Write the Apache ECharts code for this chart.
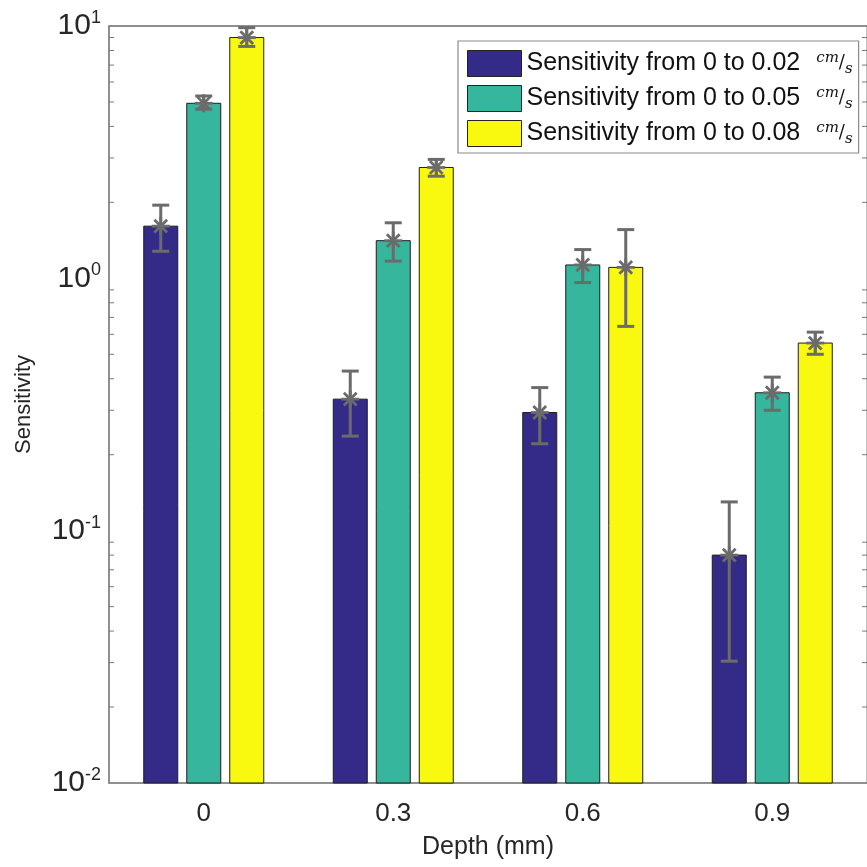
<!DOCTYPE html>
<html><head><meta charset="utf-8">
<script src="https://cdn.jsdelivr.net/npm/echarts@6/dist/echarts.min.js"></script>
<style>html,body{margin:0;padding:0;background:#fff}#c{width:867px;height:867px}</style>
</head><body><div id="c"></div>
<script>
const categories = ['0', '0.3', '0.6', '0.9'];
const seriesNames = ['Sensitivity from 0 to 0.02', 'Sensitivity from 0 to 0.05', 'Sensitivity from 0 to 0.08'];
const vals002 = [1.61, 0.332, 0.294, 0.080];
const vals005 = [4.94, 1.41, 1.13, 0.352];
const vals008 = [9.0, 2.75, 1.105, 0.554];
const low002 = [1.28, 0.237, 0.221, 0.0304];
const high002 = [1.95, 0.429, 0.369, 0.130];
const low005 = [4.68, 1.17, 0.962, 0.300];
const high005 = [5.28, 1.66, 1.30, 0.406];
const low008 = [8.3, 2.54, 0.645, 0.500];
const high008 = [9.85, 2.96, 1.56, 0.612];
const yTickExponents = ['-2', '-1', '0', '1'];
const minorTickValues = [0.02,0.03,0.04,0.05,0.06,0.07,0.08,0.09,0.2,0.3,0.4,0.5,0.6,0.7,0.8,0.9,2,3,4,5,6,7,8,9];

const colors = ['#342b89', '#36b69c', '#f8f90f'];
const values = [vals002, vals005, vals008];
const lows = [low002, low005, low008];
const highs = [high002, high005, high008];
const FONT = "'Liberation Sans', Arial, sans-serif";
const BAR_W = 34, STEP = 43;

const chart = echarts.init(document.getElementById('c'), null, {renderer: 'canvas'});

// bars drawn down to the axis bottom (log axis has no zero)
const barSeries = seriesNames.map((n, i) => ({
  name: n, type: 'custom', xAxisIndex: 0, yAxisIndex: 0, z: 2, silent: true,
  itemStyle: {color: colors[i], borderColor: '#1e1e1e', borderWidth: 1},
  data: categories.map((c, k) => [k, values[i][k]]),
  encode: {x: 0, y: 1},
  renderItem: function (params, api) {
    const k = api.value(0);
    const p = api.coord([k, api.value(1)]);
    const x = p[0] + (i - 1) * STEP - BAR_W / 2;
    const bottom = params.coordSys.y + params.coordSys.height;
    return {type: 'rect', shape: {x: x, y: p[1], width: BAR_W, height: bottom - p[1]},
      style: {fill: colors[i], stroke: '#1e1e1e', lineWidth: 1}};
  }
}));

const errSeries = seriesNames.map((n, i) => ({
  type: 'custom', xAxisIndex: 0, yAxisIndex: 0, z: 5, silent: true,
  data: categories.map((c, k) => [k, lows[i][k], highs[i][k], values[i][k]]),
  encode: {x: 0, y: [1, 2, 3]},
  renderItem: function (params, api) {
    const k = api.value(0);
    const m = api.coord([k, api.value(3)]);
    const lo = api.coord([k, api.value(1)]);
    const hi = api.coord([k, api.value(2)]);
    const x = m[0] + (i - 1) * STEP;
    const st = {stroke: '#6b6b6b', lineWidth: 3};
    const mst = {stroke: '#6b6b6b', lineWidth: 2.8};
    const cap = 8.5, a = 9, d = 6.4;
    return {type: 'group', children: [
      {type: 'line', shape: {x1: x, y1: lo[1], x2: x, y2: hi[1]}, style: st},
      {type: 'line', shape: {x1: x - cap, y1: lo[1], x2: x + cap, y2: lo[1]}, style: st},
      {type: 'line', shape: {x1: x - cap, y1: hi[1], x2: x + cap, y2: hi[1]}, style: st},
      {type: 'line', shape: {x1: x - a, y1: m[1], x2: x + a, y2: m[1]}, style: mst},
      {type: 'line', shape: {x1: x, y1: m[1] - a, x2: x, y2: m[1] + a}, style: mst},
      {type: 'line', shape: {x1: x - d, y1: m[1] - d, x2: x + d, y2: m[1] + d}, style: mst},
      {type: 'line', shape: {x1: x - d, y1: m[1] + d, x2: x + d, y2: m[1] - d}, style: mst}
    ]};
  }
}));

const minorSeries = {
  type: 'custom', xAxisIndex: 0, yAxisIndex: 0, z: 6, silent: true,
  data: minorTickValues.map(v => [0, v]),
  encode: {x: 0, y: 1},
  renderItem: function (params, api) {
    const p = api.coord([0, api.value(1)]);
    const gx = params.coordSys.x, gw = params.coordSys.width;
    const st = {stroke: '#7a7a7a', lineWidth: 1};
    return {type: 'group', children: [
      {type: 'line', shape: {x1: gx, y1: p[1], x2: gx + 5, y2: p[1]}, style: st},
      {type: 'line', shape: {x1: gx + gw, y1: p[1], x2: gx + gw - 5, y2: p[1]}, style: st}
    ]};
  }
};

const unitRich = {
  t: {fontSize: 25, fontFamily: FONT, color: '#111', lineHeight: 26},
  u: {fontSize: 15, fontFamily: "'DejaVu Serif', serif", fontStyle: 'italic', color: '#111', lineHeight: 16, verticalAlign: 'top', padding: [0, 0, 0, 16]},
  sl: {fontSize: 18, fontFamily: "'DejaVu Serif', serif", color: '#111', lineHeight: 22},
  d: {fontSize: 15, fontFamily: "'DejaVu Serif', serif", fontStyle: 'italic', color: '#111', lineHeight: 16, verticalAlign: 'bottom'}
};

chart.setOption({
  animation: false,
  backgroundColor: '#fff',
  grid: {left: 109, top: 26, width: 766, height: 757, show: true, borderColor: '#808080', borderWidth: 1},
  legend: {
    orient: 'vertical', left: 458, top: 41,
    itemWidth: 54, itemHeight: 26, itemGap: 8,
    padding: [9, 6, 6, 9],
    backgroundColor: '#fff', borderColor: '#8a8a8a', borderWidth: 1.2,
    icon: 'rect', selectedMode: false,
    data: seriesNames,
    itemStyle: {borderColor: '#222', borderWidth: 1},
    textStyle: {fontSize: 25, fontFamily: FONT, color: '#111', rich: unitRich},
    formatter: function (n) { return '{t|' + n + '}{u|cm}{sl|/}{d|s}'; }
  },
  xAxis: [{
    type: 'category', data: categories, position: 'bottom',
    name: 'Depth (mm)', nameLocation: 'middle', nameGap: 52,
    nameTextStyle: {fontSize: 25, fontFamily: FONT, color: '#262626'},
    axisLine: {lineStyle: {color: '#808080', width: 1.5}},
    axisTick: {inside: true, alignWithLabel: true, length: 7, lineStyle: {color: '#808080'}},
    axisLabel: {fontSize: 26, fontFamily: FONT, color: '#262626', margin: 18},
    splitLine: {show: false}
  }, {
    type: 'category', data: categories, position: 'top',
    axisLine: {lineStyle: {color: '#808080', width: 1.5}},
    axisTick: {inside: true, alignWithLabel: true, length: 7, lineStyle: {color: '#808080'}},
    axisLabel: {show: false}
  }],
  yAxis: [{
    type: 'log', logBase: 10, min: 0.01, max: 10,
    name: 'Sensitivity', nameLocation: 'middle', nameGap: 74,
    nameTextStyle: {fontSize: 22, fontFamily: FONT, color: '#262626'},
    axisLine: {show: true, lineStyle: {color: '#808080', width: 1.5}},
    axisTick: {inside: true, length: 9, lineStyle: {color: '#808080'}},
    splitLine: {show: false},
    axisLabel: {
      margin: 8, fontFamily: FONT,
      formatter: function (v) {
        const e = Math.round(Math.log10(v));
        const lbl = yTickExponents[e + 2];
        return '{b|10}{s|' + lbl + '}';
      },
      rich: {
        b: {fontSize: 30, fontFamily: FONT, color: '#262626', lineHeight: 34},
        s: {fontSize: 18, fontFamily: FONT, color: '#262626', lineHeight: 20, verticalAlign: 'top'}
      }
    }
  }],
  series: [...barSeries, ...errSeries, minorSeries]
});
</script></body></html>
